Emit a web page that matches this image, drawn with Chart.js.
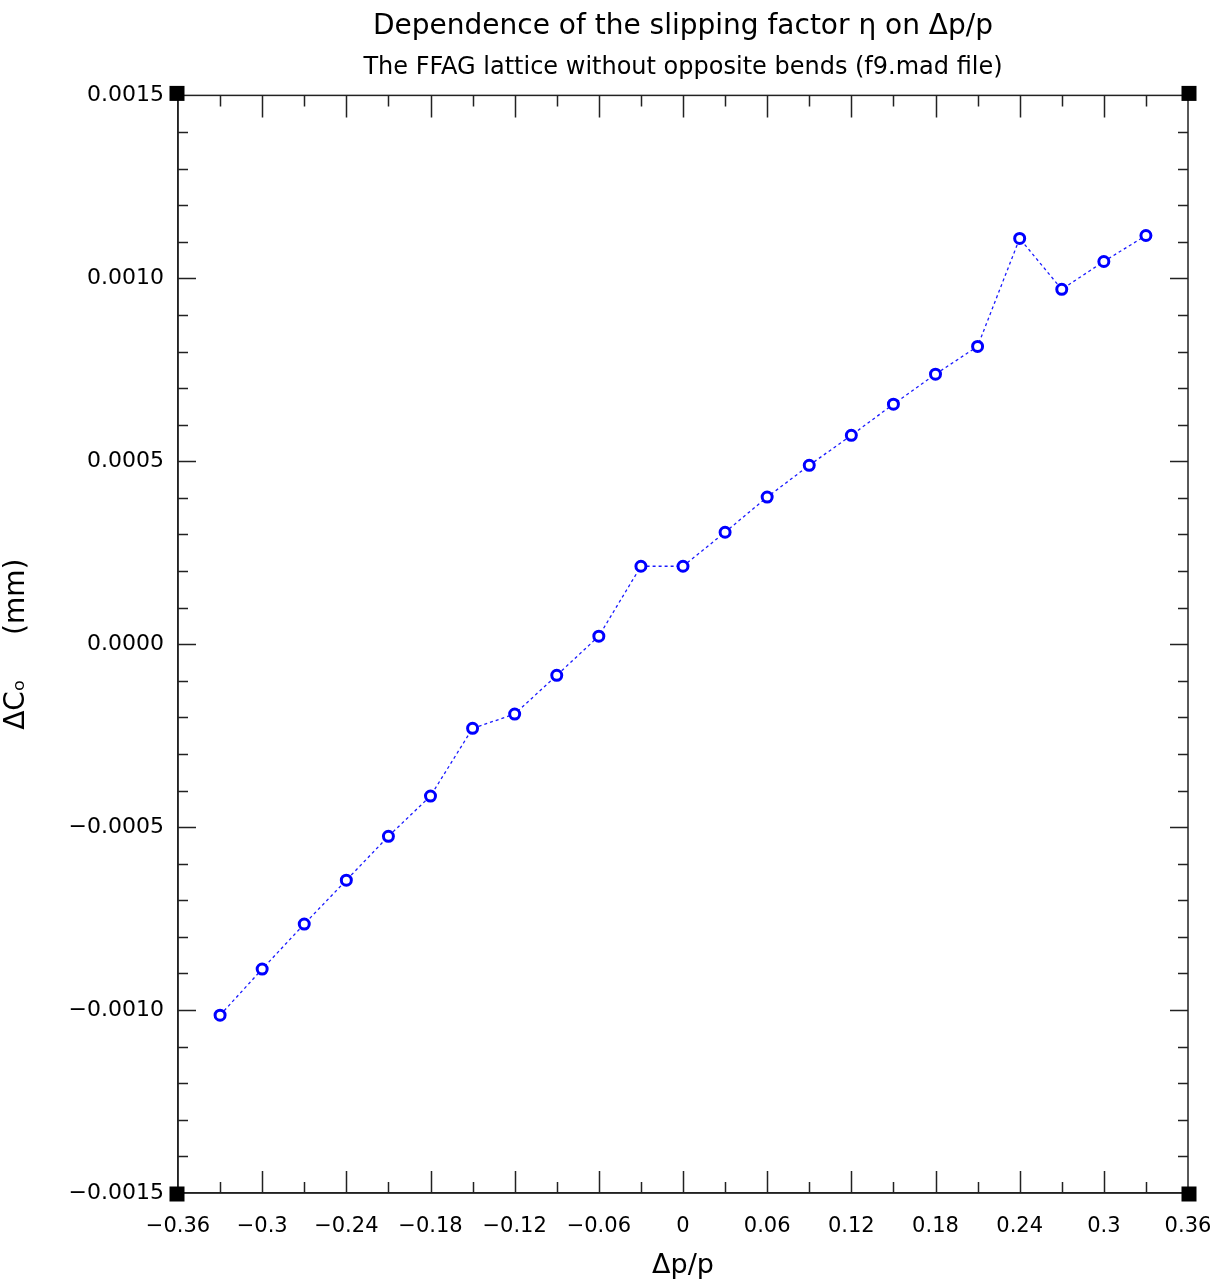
<!DOCTYPE html>
<html>
<head>
<meta charset="utf-8">
<script src="https://cdn.jsdelivr.net/npm/chart.js@4"></script>
<style>
  html, body { margin: 0; padding: 0; background: #fff; }
  #wrap { width: 1215px; height: 1287px; }
</style>
</head>
<body>
<div id="wrap"><canvas id="chart" width="1215" height="1287"></canvas></div>
<script>
// data
const dpValues = [-0.33, -0.30, -0.27, -0.24, -0.21, -0.18, -0.15, -0.12, -0.09, -0.06, -0.03,
    0.00, 0.03, 0.06, 0.09, 0.12, 0.15, 0.18, 0.21, 0.24, 0.27, 0.30, 0.33];
const dcValues = [-0.001014, -0.000888, -0.000765, -0.000645, -0.000525, -0.000415, -0.000230,
    -0.000191, -0.000085, 0.000022, 0.000213, 0.000213, 0.000306, 0.000402, 0.000489, 0.000571,
    0.000656, 0.000738, 0.000814, 0.001109, 0.000970, 0.001046, 0.001117];

const titleText = 'Dependence of the slipping factor \u03B7 on \u0394p/p';
const subtitleText = 'The FFAG lattice without opposite bends (f9.mad file)';
const xLabel = '\u0394p/p';
const yLabel = '\u0394C\u2092     (mm)';

const xRange = [-0.36, 0.36];
const yRange = [-0.0015, 0.0015];
const xMajorStep = 0.06, xMinorStep = 0.03;
const yMajorStep = 0.0005, yMinorStep = 0.0001;

const FONT = "'DejaVu Sans', 'Liberation Sans', sans-serif";

const minus = (s) => s.replace('-', '\u2212');

// frame, inward ticks and corner squares
const framePlugin = {
    id: 'frame',
    afterDraw(chart) {
        const { ctx, chartArea: a, scales } = chart;
        ctx.save();
        ctx.strokeStyle = '#222';
        ctx.lineWidth = 1.5;
        ctx.strokeRect(a.left, a.top, a.right - a.left, a.bottom - a.top);

        ctx.beginPath();
        const xs = scales.x;
        const nx = Math.round((xRange[1] - xRange[0]) / xMinorStep);
        for (let i = 1; i < nx; i++) {
            const v = xRange[0] + i * xMinorStep;
            const len = i % Math.round(xMajorStep / xMinorStep) === 0 ? 22 : 11;
            const px = Math.round(xs.getPixelForValue(v)) + 0.5;
            ctx.moveTo(px, a.bottom); ctx.lineTo(px, a.bottom - len);
            ctx.moveTo(px, a.top); ctx.lineTo(px, a.top + len);
        }
        const ys = scales.y;
        const ny = Math.round((yRange[1] - yRange[0]) / yMinorStep);
        for (let i = 1; i < ny; i++) {
            const v = yRange[0] + i * yMinorStep;
            const len = i % Math.round(yMajorStep / yMinorStep) === 0 ? 18 : 10;
            const py = Math.round(ys.getPixelForValue(v)) + 0.5;
            ctx.moveTo(a.left, py); ctx.lineTo(a.left + len, py);
            ctx.moveTo(a.right, py); ctx.lineTo(a.right - len, py);
        }
        ctx.stroke();

        ctx.fillStyle = '#000';
        const s = 15;
        [[a.left - 1, a.top - 2], [a.right + 1, a.top - 2], [a.left - 1, a.bottom + 1], [a.right + 1, a.bottom + 1]]
            .forEach(([cx, cy]) => ctx.fillRect(cx - s / 2, cy - s / 2, s, s));
        ctx.restore();
    },
};

new Chart(document.getElementById('chart'), {
    type: 'line',
    data: {
        datasets: [
            {
                data: dpValues.map((x, i) => ({ x: x, y: dcValues[i] })),
                borderColor: '#1a1aff',
                borderWidth: 1.3,
                borderDash: [3, 3],
                pointStyle: 'circle',
                pointRadius: 5,
                pointBorderWidth: 3,
                pointBorderColor: '#0000ff',
                pointBackgroundColor: '#ffffff',
                tension: 0,
            },
        ],
    },
    options: {
        responsive: false,
        animation: false,
        layout: { padding: { left: 0, right: 27, top: 0, bottom: 0 } },
        plugins: {
            legend: { display: false },
            tooltip: { enabled: false },
            title: {
                display: true,
                text: titleText,
                fullSize: false,
                color: '#000',
                font: { family: FONT, size: 28, weight: 'normal' },
                padding: { top: 10, bottom: 10 },
            },
            subtitle: {
                display: true,
                text: subtitleText,
                fullSize: false,
                color: '#000',
                font: { family: FONT, size: 24, weight: 'normal' },
                padding: { top: 0, bottom: 13 },
            },
        },
        scales: {
            x: {
                type: 'linear',
                min: xRange[0],
                max: xRange[1],
                grid: { display: false },
                border: { display: true, color: '#222', width: 1.5 },
                ticks: {
                    stepSize: xMajorStep,
                    color: '#000',
                    padding: 13,
                    maxRotation: 0,
                    autoSkip: false,
                    font: { family: FONT, size: 21 },
                    callback: (v) => minus(String(parseFloat(Number(v).toFixed(2)))),
                },
                title: {
                    display: true,
                    text: xLabel,
                    color: '#000',
                    font: { family: FONT, size: 27 },
                    padding: { top: 0, bottom: 5 },
                },
                afterFit: (scale) => {
                    scale.height = 94;
                    scale.paddingLeft = 0;
                    scale.paddingRight = 0;
                },
            },
            y: {
                type: 'linear',
                min: yRange[0],
                max: yRange[1],
                grid: { display: false },
                border: { display: true, color: '#222', width: 1.5 },
                ticks: {
                    stepSize: yMajorStep,
                    color: '#000',
                    padding: 6,
                    autoSkip: false,
                    font: { family: FONT, size: 22 },
                    callback: (v) => (Math.abs(v) < 1e-9 ? '0.0000' : minus(Number(v).toFixed(4))),
                },
                title: {
                    display: true,
                    text: yLabel,
                    color: '#000',
                    font: { family: FONT, size: 28 },
                    padding: { top: 0, bottom: 17 },
                },
                afterFit: (scale) => {
                    scale.width = 178;
                    scale.paddingTop = 0;
                    scale.paddingBottom = 0;
                },
            },
        },
    },
    plugins: [framePlugin],
});
</script>
</body>
</html>
